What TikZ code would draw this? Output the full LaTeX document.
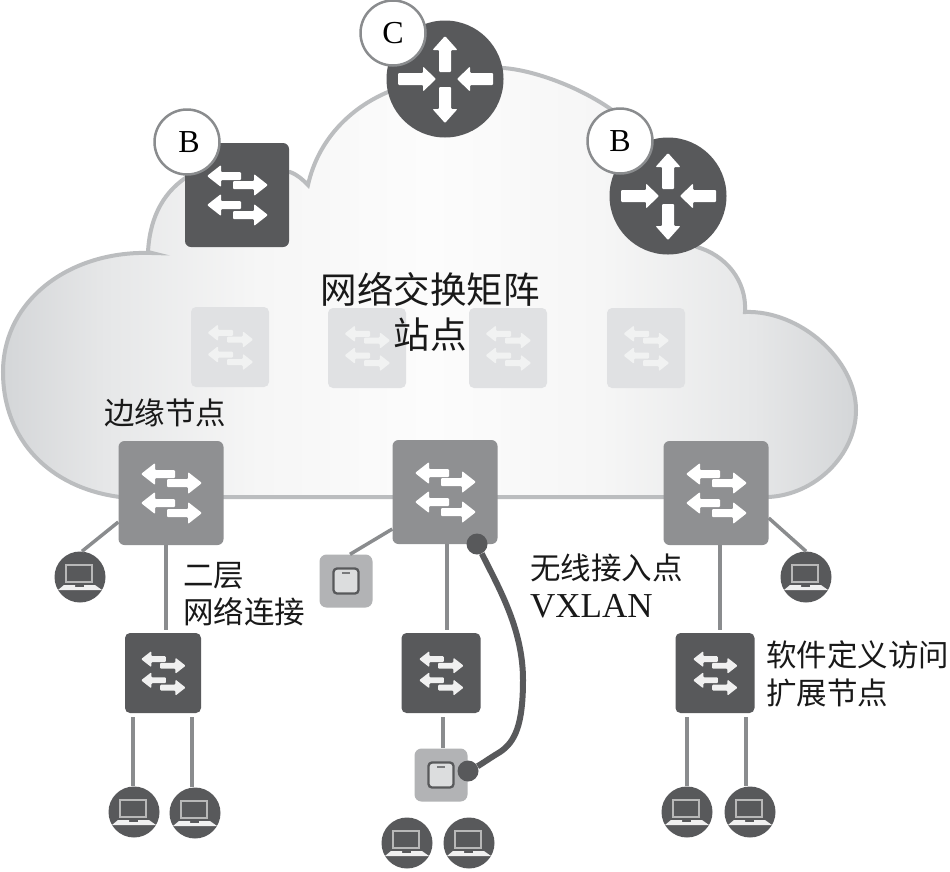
\documentclass[tikz,border=0pt]{standalone}
\usepackage{fontspec}
\setmainfont{Liberation Serif}
\newfontfamily\cjk{Noto Sans CJK SC}
\definecolor{darkbox}{HTML}{58595B}
\definecolor{midbox}{HTML}{8F9092}
\definecolor{faintbox}{HTML}{E0E1E3}
\definecolor{faintarrow}{HTML}{F1F2F2}
\definecolor{cloudline}{HTML}{BBBDBF}
\definecolor{wire}{HTML}{8A8C8E}
\definecolor{apbox}{HTML}{B2B3B5}
\definecolor{cloudA}{HTML}{D4D6D8}
\definecolor{cloudB}{HTML}{E6E7E8}
\definecolor{cloudC}{HTML}{F6F6F6}
\definecolor{cloudD}{HTML}{FCFCFC}
\pgfdeclarehorizontalshading{cloudshade}{100bp}{
  color(0bp)=(cloudA); color(25bp)=(cloudA); color(31bp)=(cloudB); color(40bp)=(cloudC);
  color(50bp)=(cloudD); color(60bp)=(cloudC); color(69bp)=(cloudB); color(75bp)=(cloudA); color(100bp)=(cloudA)}
\tikzset{
  bigsw/.style={rectangle,rounded corners=6pt,inner sep=0pt,minimum width=105pt,minimum height=104pt,fill=midbox},
  topsw/.style={rectangle,rounded corners=6pt,inner sep=0pt,minimum width=104pt,minimum height=104pt,fill=darkbox},
  smallsw/.style={rectangle,rounded corners=5pt,inner sep=0pt,minimum width=79pt,minimum height=80pt,fill=darkbox},
  faintsw/.style={rectangle,rounded corners=5pt,inner sep=0pt,minimum width=78pt,minimum height=80pt,fill=faintbox},
  router/.style={circle,inner sep=0pt,minimum size=117pt,fill=darkbox},
  badge/.style={circle,inner sep=0pt,minimum size=65pt,fill=white,draw=wire,line width=2.5pt,font=\fontsize{32}{34}\selectfont},
  laptop/.style={circle,inner sep=0pt,minimum size=51pt,fill=darkbox},
  apnode/.style={rectangle,rounded corners=7pt,inner sep=0pt,minimum size=53pt,fill=apbox},
  dotnode/.style={circle,inner sep=0pt,minimum size=21pt,fill=darkbox},
  wireline/.style={draw=wire,line width=3.5pt},
  tunnel/.style={draw=darkbox,line width=6pt},
  cnlabel/.style={inner sep=0pt,anchor=west,align=left,text=black!90,font=\cjk\fontsize{30.5}{37.5}\selectfont},
  pics/swicon/.style={code={
    \fill[pic actions,rounded corners=1pt] (-30,-19) -- (-16,-30) -- (-16,-23) -- (4,-23) -- (4,-15) -- (-16,-15) -- (-16,-8) -- cycle;
    \fill[pic actions,rounded corners=1pt] (31,-10) -- (17,-21) -- (17,-14) -- (-4,-14) -- (-4,-6) -- (17,-6) -- (17,1) -- cycle;
    \fill[pic actions,rounded corners=1pt] (-30,10) -- (-16,-1) -- (-16,6) -- (4,6) -- (4,14) -- (-16,14) -- (-16,21) -- cycle;
    \fill[pic actions,rounded corners=1pt] (31,20) -- (17,9) -- (17,16) -- (-4,16) -- (-4,24) -- (17,24) -- (17,31) -- cycle;
  }},
  pics/rticon/.style={code={
    \fill[pic actions,rounded corners=1pt] (0,-43) -- (12.5,-29) -- (6,-29) -- (6,-7) -- (-6,-7) -- (-6,-29) -- (-12.5,-29) -- cycle;
    \fill[pic actions,rounded corners=1pt] (0,44) -- (12.5,30) -- (6,30) -- (6,8) -- (-6,8) -- (-6,30) -- (-12.5,30) -- cycle;
    \fill[pic actions,rounded corners=1pt] (-9,0) -- (-22,-12.5) -- (-22,-6) -- (-47,-6) -- (-47,6) -- (-22,6) -- (-22,12.5) -- cycle;
    \fill[pic actions,rounded corners=1pt] (12,0) -- (25,-12.5) -- (25,-6) -- (48,-6) -- (48,6) -- (25,6) -- (25,12.5) -- cycle;
  }},
  pics/lapicon/.style={code={
    \draw[draw=white!72!black,line width=1.1pt] (-14,-12) rectangle (12,5);
    \fill[white!94!black] (-16,8) -- (-5,8) -- (-5,10) -- (4,10) -- (4,8) -- (15,8) -- (22,13) -- (-22,13) -- cycle;
  }},
  pics/apicon/.style={code={
    \draw[draw=darkbox,fill=white!55!apbox,line width=2.3pt,rounded corners=3.5pt] (-12.5,-12.5) rectangle (12.5,12.5);
    \fill[darkbox!80!white] (-4,-9) rectangle (4,-7);
  }}
}
\begin{document}
\begin{tikzpicture}[x=1pt,y=-1pt]
\useasboundingbox (0,0) rectangle (950,871);
\fill[white] (0,0) rectangle (950,871);
% cloud
\path[draw=cloudline,line width=4pt,shading=cloudshade,line join=miter]
  (120,497) .. controls (50,488) and (3,440) .. (3,372)
  .. controls (3,300) and (70,250) .. (152,253) -- (148,252)
  .. controls (150,215) and (165,190) .. (190,175)
  -- (290,172) .. controls (298,175) and (303,180) .. (308,185)
  .. controls (318,140) and (350,108) .. (388,92)
  -- (503,68) .. controls (535,70) and (590,90) .. (625,120)
  -- (697,247) .. controls (725,255) and (747,280) .. (745,312)
  .. controls (800,310) and (856,360) .. (856,410)
  .. controls (856,455) and (815,495) .. (768,497) -- cycle;
% faint switches
\node[faintsw] (f1) at (230,347) {};
\node[faintsw] (f2) at (367,348) {};
\node[faintsw] (f3) at (508,348) {};
\node[faintsw] (f4) at (646,348) {};
\foreach \n in {f1,f2,f3,f4} \pic[fill=faintarrow,scale=.75] at (\n) {swicon};
% laptops and end devices
\node[laptop] (lapA) at (80,577) {};
\node[laptop] (lapB) at (806,577) {};
\node[laptop] (lapC) at (134,812) {};
\node[laptop] (lapD) at (195,813) {};
\node[laptop] (lapE) at (407,843) {};
\node[laptop] (lapF) at (469,843) {};
\node[laptop] (lapG) at (687,812) {};
\node[laptop] (lapH) at (750,812) {};
\foreach \n in {lapA,lapB,lapC,lapD,lapE,lapF,lapG,lapH} \pic at (\n) {lapicon};
\node[apnode] (ap1) at (346,581) {};
\node[apnode] (ap2) at (441,775) {};
\pic at (ap1) {apicon};
\pic at (ap2) {apicon};
% switches
\node[bigsw] (e1) at (171,493) {};
\node[bigsw] (e2) at (445,492) {};
\node[bigsw] (e3) at (716,493) {};
\node[smallsw,minimum width=76pt] (s1) at (163,673) {};
\node[smallsw] (s2) at (441,673) {};
\node[smallsw] (s3) at (715,673) {};
\node[topsw] (t1) at (237,195) {};
\node[router] (r1) at (445,79) {};
\node[router] (r2) at (668,196) {};
% wires
\draw[wireline] ([yshift=-29pt]e1.west) -- ([xshift=2pt]lapA.north);
\draw[wireline] ([yshift=-25pt]e3.east) -- (lapB.north);
\draw[wireline] ([yshift=-37pt]e2.west) -- ([xshift=4pt]ap1.north);
\draw[wireline,shorten >=3pt] (e1.south -| 166,0) -- (s1.north -| 166,0);
\draw[wireline,shorten >=3pt] (e2.south -| 447,0) -- (s2.north -| 447,0);
\draw[wireline,shorten >=3pt] (e3.south -| 720,0) -- (s3.north -| 720,0);
\draw[wireline,shorten <=4pt] (s1.south -| 133,0) -- (lapC.north -| 133,0);
\draw[wireline,shorten <=4pt] (s1.south -| 192,0) -- (lapD.north -| 192,0);
\draw[wireline,shorten <=4pt] (s2.south -| 443,0) -- (ap2.north -| 443,0);
\draw[wireline,shorten <=4pt] (s3.south -| lapG.north) -- (lapG.north);
\draw[wireline,shorten <=4pt] (s3.south -| 746,0) -- (lapH.north -| 746,0);
% icons
\foreach \n in {e1,e2,e3,t1} \pic[fill=white] at (\n) {swicon};
\foreach \n in {s1,s2,s3} \pic[fill=white!94!black,scale=.73] at (\n) {swicon};
\foreach \n in {r1,r2} \pic[fill=white] at (\n) {rticon};
% tunnel
\node[dotnode] (d1) at (477,544) {};
\node[dotnode] (d2) at (468,771) {};
\draw[tunnel] (d1) .. controls (500,590) and (523,630) .. (523,680)
  .. controls (523,725) and (515,742) .. (500,752)
  .. controls (490,758) and (480,765) .. (d2);
% badges
\node[badge] (bB1) at (187,142) {\hspace{4pt}B};
\node[badge] (bC) at (393,33) {C};
\node[badge] (bB2) at (620,141) {B};
% labels
\node[inner sep=0pt,align=center,text=black!90,font=\cjk\fontsize{36.5}{45}\selectfont] (tFabric) at (430,312) {网络交换矩阵\\站点};
\node[cnlabel] (tEdge) at (104,413) {边缘节点};
\node[cnlabel] (tL2) at (183,594) {二层\\网络连接};
\node[cnlabel] (tAP) at (530,586) {无线接入点\\{\rmfamily\fontsize{35}{37.5}\selectfont VXLAN}};
\node[cnlabel] (tExt) at (766,674) {软件定义访问\\扩展节点};
\end{tikzpicture}
\end{document}
